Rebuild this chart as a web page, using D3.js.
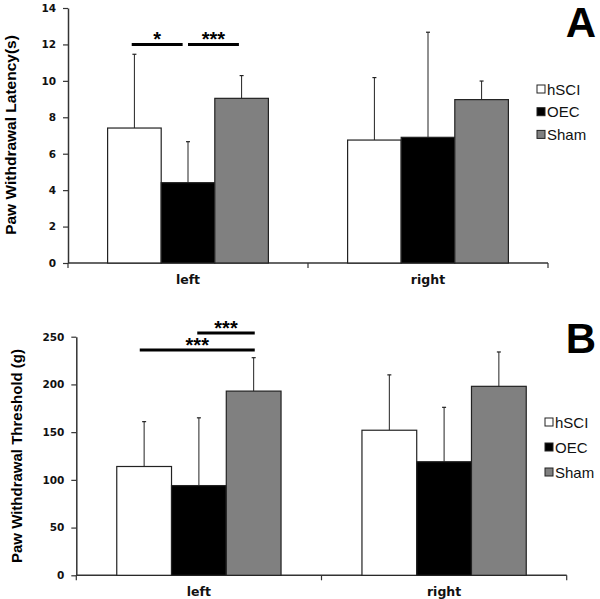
<!DOCTYPE html>
<html><head><meta charset="utf-8">
<script src="https://cdn.jsdelivr.net/npm/d3@7"></script>
<style>body{margin:0;background:#fff}svg{display:block}text{font-family:"Liberation Sans",Arial,sans-serif}</style>
</head><body><svg id="c" width="600" height="599"></svg>
<script>
const categories = ["left", "right"];
const series = ["hSCI", "OEC", "Sham"];
const seriesColors = ["#ffffff", "#000000", "#808080"];
// Panel A: paw withdrawal latency (s)
const latencyMean = [[7.41, 4.41, 9.04], [6.75, 6.90, 8.97]];
const latencyErr  = [[11.46, 6.66, 10.29], [10.18, 12.67, 9.99]];
const latencyTicks = [0, 2, 4, 6, 8, 10, 12, 14];
// Panel B: paw withdrawal threshold (g)
const thresholdMean = [[114, 94, 193], [152, 119, 198]];
const thresholdErr  = [[161, 165, 228], [210, 176, 234]];
const thresholdTicks = [0, 50, 100, 150, 200, 250];

const svg = d3.select("#c");

function panel(cfg) {
  const g = svg.append("g");
  const y = d3.scaleLinear().domain([0, cfg.ymax]).range([cfg.y0, cfg.yTop]);
  const x0 = d3.scaleBand().domain(categories).range([cfg.L, cfg.R]).padding(0);
  const bw = x0.bandwidth();
  const x1 = d3.scaleBand().domain(series).range([bw * 0.165, bw * 0.835]).padding(0);

  // y axis
  const ya = g.append("g").attr("transform", `translate(${cfg.L},0)`)
    .call(d3.axisLeft(y).tickValues(cfg.ticks).tickSize(5).tickSizeOuter(0).tickPadding(7));
  ya.select(".domain").attr("stroke", "#333").attr("stroke-width", 1.5);
  ya.selectAll(".tick line").attr("stroke", "#333").attr("stroke-width", 1.2);
  ya.selectAll(".tick text").attr("font-weight", "bold").attr("fill", "#111")
    .style("font-family", "Verdana, 'DejaVu Sans', sans-serif").attr("font-size", 10.5);

  // x axis line + ticks at boundaries
  g.append("line").attr("x1", cfg.L).attr("x2", cfg.R).attr("y1", cfg.y0).attr("y2", cfg.y0)
    .attr("stroke", "#333").attr("stroke-width", 1.5);
  const bounds = categories.map(c => x0(c)).concat([cfg.R]);
  g.selectAll(".xt").data(bounds).enter().append("line")
    .attr("x1", d => d).attr("x2", d => d).attr("y1", cfg.y0).attr("y2", cfg.y0 + 5)
    .attr("stroke", "#333").attr("stroke-width", 1.2);
  g.selectAll(".xl").data(categories).enter().append("text")
    .attr("x", d => x0(d) + bw / 2).attr("y", cfg.y0 + 21)
    .attr("text-anchor", "middle").attr("font-weight", "bold").attr("fill", "#111")
    .style("font-family", "Verdana, 'DejaVu Sans', sans-serif").attr("font-size", 12.5)
    .text(d => d);

  // bars
  categories.forEach((c, ci) => {
    series.forEach((s, si) => {
      const bx = x0(c) + x1(s);
      const v = cfg.mean[ci][si], e = cfg.err[ci][si];
      const cx = bx + x1.bandwidth() / 2;
      g.append("line").attr("x1", cx).attr("x2", cx).attr("y1", y(v)).attr("y2", y(e))
        .attr("stroke", "#222").attr("stroke-width", 1);
      g.append("line").attr("x1", cx - 2).attr("x2", cx + 2).attr("y1", y(e)).attr("y2", y(e))
        .attr("stroke", "#222").attr("stroke-width", 1.2);
      g.append("rect").attr("x", bx).attr("y", y(v)).attr("width", x1.bandwidth()).attr("height", y(0) - y(v))
        .attr("fill", seriesColors[si]).attr("stroke", "#222").attr("stroke-width", 1.2);
    });
  });

  // significance
  cfg.sig.forEach(sg => {
    const xa = x0(categories[0]) + x1(sg.a) + x1.bandwidth() * sg.fa;
    const xb = x0(categories[0]) + x1(sg.b) + x1.bandwidth() * sg.fb;
    g.append("line").attr("x1", xa).attr("x2", xb).attr("y1", y(sg.y)).attr("y2", y(sg.y))
      .attr("stroke", "#000").attr("stroke-width", 3);
    g.append("text").attr("x", sg.tx !== undefined ? x0(categories[0]) + x1(sg.tx[0]) + x1.bandwidth() * sg.tx[1] : (xa + xb) / 2)
      .attr("y", y(sg.y) + 2).attr("text-anchor", "middle")
      .attr("font-size", 20).attr("font-weight", "bold").text(sg.label);
  });

  // y title
  g.append("text").attr("transform", `translate(${cfg.titleX},${cfg.titleY}) rotate(-90)`)
    .attr("text-anchor", "middle").attr("font-size", cfg.titleSize).attr("font-weight", "bold").text(cfg.title);

  // panel letter
  g.append("text").attr("x", 581).attr("y", cfg.letterY).attr("text-anchor", "middle")
    .attr("font-size", 42).attr("font-weight", "bold").text(cfg.letter);

  // legend
  series.forEach((s, i) => {
    const ly = cfg.legY + i * cfg.legGap;
    g.append("rect").attr("x", cfg.legX).attr("y", ly - 4).attr("width", 8).attr("height", 8)
      .attr("fill", seriesColors[i]).attr("stroke", "#222").attr("stroke-width", 1);
    g.append("text").attr("x", cfg.legX + 10).attr("y", ly + 5.5).attr("font-size", 15).attr("fill", "#111").text(s);
  });
}

panel({L: 68, R: 548, y0: 263, yTop: 8, ymax: 14, ticks: latencyTicks, mean: latencyMean, err: latencyErr,
  title: "Paw Withdrawal Latency(s)", titleX: 16, titleY: 135, titleSize: 15.5,
  letter: "A", letterY: 37, legX: 537, legY: 89, legGap: 22.7,
  sig: [{a: "hSCI", fa: 0.45, b: "OEC", fb: 0.4, y: 12.0, label: "*"},
        {a: "OEC", fa: 0.5, b: "Sham", fb: 0.45, y: 12.0, label: "***"}]});

panel({L: 76.3, R: 566.7, y0: 575.3, yTop: 336.7, ymax: 250, ticks: thresholdTicks, mean: thresholdMean, err: thresholdErr,
  title: "Paw Withdrawal Threshold (g)", titleX: 22, titleY: 456, titleSize: 15,
  letter: "B", letterY: 353, legX: 545, legY: 422, legGap: 25,
  sig: [{a: "OEC", fa: 0.47, b: "Sham", fb: 0.52, y: 254, label: "***"},
        {a: "hSCI", fa: 0.42, b: "Sham", fb: 0.52, y: 236, label: "***", tx: ["OEC", 0.47]}]});
</script></body></html>
